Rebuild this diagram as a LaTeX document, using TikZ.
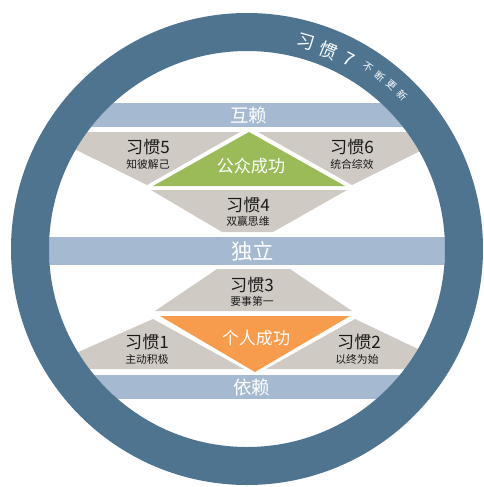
\documentclass[tikz,border=0pt]{standalone}
\usepackage{fontspec}
\setmainfont{Noto Sans CJK SC}

\definecolor{ringblue}{HTML}{4E7490}
\definecolor{bandblue}{HTML}{A5B9D1}
\definecolor{habitgray}{HTML}{D0CAC4}
\definecolor{publicgreen}{HTML}{9BBB59}
\definecolor{privateorange}{HTML}{F79C4C}

\tikzset{every picture/.style={line width=0.75pt}}
\tikzset{
  bandtext/.style={text=white,inner sep=0.75pt,font=\fontsize{13.9}{14}\selectfont},
  habittitle/.style={text=black!90,inner sep=0.75pt,font=\fontsize{12.8}{13}\selectfont},
  habitsub/.style={text=black!90,inner sep=0.75pt,font=\fontsize{8.1}{8}\selectfont},
  wintext/.style={text=white,inner sep=0.75pt,font=\fontsize{12.8}{13}\selectfont},
  ringbig/.style={text=white,inner sep=0pt,font=\fontsize{13.5}{13}\selectfont},
  ringsmall/.style={text=white,inner sep=0pt,font=\fontsize{7.5}{8}\selectfont},
}

\begin{document}
\begin{tikzpicture}[x=0.75pt,y=0.75pt,yscale=-1,xscale=1]
\useasboundingbox (0,0) rectangle (484,487);

\begin{scope}
\clip (247,249) circle (198);
%Shape: Rectangle bands
\fill[bandblue] (0,103) rectangle (484,127);
\fill[bandblue] (0,237) rectangle (484,265);
\fill[bandblue] (0,375) rectangle (484,399);
%Shape: Triangle habits 5 and 6
\fill[habitgray] (40,132) -- (240,132) -- (147,185) -- cycle;
\fill[habitgray] (258,132) -- (458,132) -- (352,185) -- cycle;
%Shape: Triangle public victory
\fill[publicgreen] (153,186) -- (249,132) -- (345,186) -- cycle;
%Shape: Trapezoid habit 4
\fill[habitgray] (151,190) -- (347,190) -- (273,232) -- (222,232) -- cycle;
%Shape: Trapezoid habit 3
\fill[habitgray] (217,269) -- (290,269) -- (352,311) -- (155,311) -- cycle;
%Shape: Triangle private victory
\fill[privateorange] (160,316) -- (350,316) -- (255,372) -- cycle;
%Shape: Triangle habits 1 and 2
\fill[habitgray] (153,319) -- (244,369) -- (40,369) -- cycle;
\fill[habitgray] (355,319) -- (460,369) -- (266,369) -- cycle;
\end{scope}

%Shape: Ring
\fill[ringblue,even odd rule] (247,249) circle (236) (247,249) circle (198);

% Text Node
\node[bandtext] (interdep) at (249,115) {互赖};
\node[bandtext,font=\fontsize{16}{16}\selectfont] (indep) at (253,251) {独立};
\node[bandtext] (dep) at (252,387) {依赖};
% Text Node
\node[wintext] (public) at (251,166) {公众成功};
\node[wintext] (private) at (256,338) {个人成功};
% Text Node
\node[habittitle] (h5) at (148,147) {习惯5};
\node[habitsub] (h5s) at (148,164) {知彼解己};
\node[habittitle] (h6) at (352,147) {习惯6};
\node[habitsub] (h6s) at (352,164) {统合综效};
\node[habittitle] (h4) at (248,205) {习惯4};
\node[habitsub] (h4s) at (248,221) {双赢思维};
\node[habittitle] (h3) at (252,285) {习惯3};
\node[habitsub] (h3s) at (252,301) {要事第一};
\node[habittitle] (h1) at (147,342) {习惯1};
\node[habitsub] (h1s) at (147,359) {主动积极};
\node[habittitle] (h2) at (359,342) {习惯2};
\node[habitsub] (h2s) at (357,359) {以终为始};
% Text on ring
\foreach \ch/\a [count=\i] in {习/16,惯/22.4,7/28.3}
  \node[ringbig,rotate=-\a] (rb\i) at ({247+215*sin(\a)},{249-215*cos(\a)}) {\ch};
\foreach \ch/\a [count=\i] in {不/33.6,断/37.5,更/41.4,新/45.3}
  \node[ringsmall,rotate=-\a] (rs\i) at ({247+218*sin(\a)},{249-218*cos(\a)}) {\ch};

\end{tikzpicture}
\end{document}
